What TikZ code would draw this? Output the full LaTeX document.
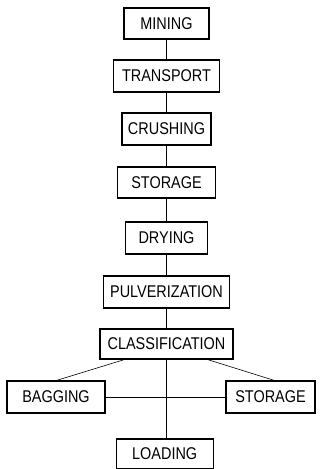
\documentclass[tikz,border=0pt]{standalone}
\usepackage{fontspec}
\newfontfamily\boxfont[FakeStretch=0.85]{Liberation Sans}
\begin{document}
\begin{tikzpicture}[x=1pt,y=-1pt,line width=1.1pt,
  stepbox/.style={draw,inner sep=0pt,font=\boxfont\fontsize{17}{20}\selectfont},
  link/.style={line width=1pt}]
\useasboundingbox (0,0) rectangle (320,469);
\node[stepbox,minimum width=85pt,minimum height=31pt] (min) at (166.5,23.5) {MINING};
\node[stepbox,minimum width=106pt,minimum height=32pt] (tra) at (166.5,76) {TRANSPORT};
\node[stepbox,minimum width=89pt,minimum height=32pt] (cru) at (166.5,129) {CRUSHING};
\node[stepbox,minimum width=98pt,minimum height=31pt] (sto) at (166.5,182.5) {STORAGE};
\node[stepbox,minimum width=82pt,minimum height=32pt] (dry) at (166.5,238) {DRYING};
\node[stepbox,minimum width=126pt,minimum height=32pt] (pul) at (166.5,292) {PULVERIZATION};
\node[stepbox,minimum width=133pt,minimum height=30pt] (cla) at (166.5,344) {CLASSIFICATION};
\node[stepbox,minimum width=98pt,minimum height=32pt] (bag) at (56,397) {BAGGING};
\node[stepbox,minimum width=89pt,minimum height=32pt] (st2) at (270.5,397) {STORAGE};
\node[stepbox,minimum width=97pt,minimum height=30pt] (loa) at (164.7,454) {LOADING};
\draw[link] (min) -- (tra);
\draw[link] (tra) -- (cru);
\draw[link] (cru) -- (sto);
\draw[link] (sto) -- (dry);
\draw[link] (dry) -- (pul);
\draw[link] (pul) -- (cla);
\draw[link] (cla.south) -- (cla.south |- loa.north);
\draw[link] (bag.east) -- (st2.west);
\draw[line width=0.6pt] ([xshift=25pt]cla.south west) -- ([xshift=50pt]bag.north west);
\draw[line width=0.6pt] ([xshift=-26pt]cla.south east) -- ([xshift=49pt]st2.north west);
\end{tikzpicture}
\end{document}
